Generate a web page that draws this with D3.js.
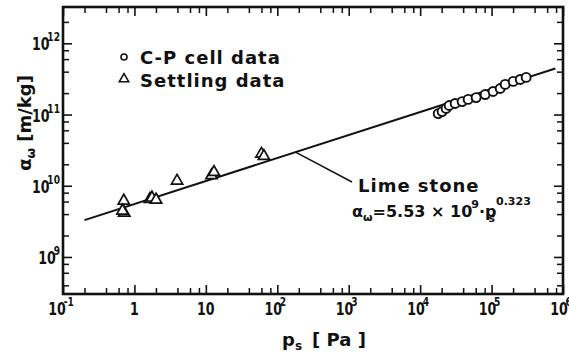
<!DOCTYPE html>
<html>
<head>
<meta charset="utf-8">
<script src="https://cdn.jsdelivr.net/npm/d3@7/dist/d3.min.js"></script>
<style>
  body { margin: 0; background: #fff; }
  svg { display: block; }
  .lbl { font-family: "DejaVu Sans", sans-serif; font-weight: bold; fill: #111; }
  .tick-lbl { font-family: "DejaVu Sans", sans-serif; font-weight: bold; fill: #111; }
</style>
</head>
<body>
<div id="chart"></div>
<script>
// --- data ---
const xMajor = [0.1, 1, 10, 1e2, 1e3, 1e4, 1e5, 1e6]
const xLabels = [["10", "-1"], ["1", ""], ["10", ""], ["10", "2"], ["10", "3"], ["10", "4"], ["10", "5"], ["10", "6"]]
const yMajor = [1e9, 1e10, 1e11, 1e12]
const yLabels = [["10", "9"], ["10", "10"], ["10", "11"], ["10", "12"]]
const minorMult = [2, 4, 6, 8]

// C-P cell data (circles)
const cpPressure = [1.79e4, 2.03e4, 2.31e4, 2.55e4, 3.09e4, 3.87e4, 4.7e4, 6.08e4, 8.13e4, 1.05e5, 1.32e5, 1.55e5, 2.01e5, 2.52e5, 3.05e5]
const cpAlpha = [1.03e11, 1.10e11, 1.22e11, 1.34e11, 1.43e11, 1.52e11, 1.63e11, 1.73e11, 1.91e11, 2.11e11, 2.32e11, 2.65e11, 2.92e11, 3.11e11, 3.32e11]

// settling data (triangles)
const setPressure = [0.71, 0.72, 0.68, 1.65, 1.76, 2.01, 3.95, 12, 13, 60, 65]
const setAlpha = [6.15e9, 4.17e9, 4.45e9, 6.5e9, 6.78e9, 6.35e9, 1.17e10, 1.4e10, 1.55e10, 2.8e10, 2.6e10]

// fitted line  alpha = 5.53e9 * p^0.323
const fitCoef = 5.53e9
const fitExp = 0.323
const fitRange = [0.2, 7.8e5]
const leaderAt = 180

const legendItems = ["C-P cell data", "Settling data"]

var app = {

	init: () => {

		app.width = 569
		app.height = 353

		app.svg = d3.select("#chart").append("svg")
			.attr("width", app.width)
			.attr("height", app.height)

		app.x = d3.scaleLog().domain([0.1, 1e6]).range([63, 563])
		app.y = d3.scaleLog().domain([Math.pow(10, 8.48), Math.pow(10, 12.51)]).range([294, 7])

		app.axes()
		app.marks()
		app.texts()
	},

	minors: (lo, hi) => {
		var out = []
		for (var e = lo; e <= hi; e++) minorMult.forEach(m => out.push(m * Math.pow(10, e)))
		return out
	},

	// "10" with a raised exponent, squeezed like the lettering-guide digits
	powLabel: (px, py, anchor, lab) => {
		var t = app.svg.append("text").attr("class", "tick-lbl")
			.attr("transform", `translate(${px},${py}) scale(0.7,1)`)
			.attr("text-anchor", anchor).attr("font-size", 18)
		t.append("tspan").text(lab[0])
		if (lab[1]) t.append("tspan").attr("font-size", 13).attr("dy", -9).attr("dx", -3).text(lab[1])
	},

	axes: () => {

		var x = app.x, y = app.y, svg = app.svg
		var xMin = app.minors(-1, 5).filter(v => v < 1e6)
		var yMin = app.minors(8, 12).filter(v => v > y.domain()[0] && v < y.domain()[1])

		var sides = [
			{ ax: d3.axisBottom(x), t: "translate(0,294)", maj: xMajor, min: xMin },
			{ ax: d3.axisTop(x), t: "translate(0,7)", maj: xMajor, min: xMin },
			{ ax: d3.axisLeft(y), t: "translate(63,0)", maj: yMajor, min: yMin },
			{ ax: d3.axisRight(y), t: "translate(563,0)", maj: yMajor, min: yMin }
		]

		sides.forEach(d => {
			svg.append("g").attr("transform", d.t)
				.call(d.ax.tickValues(d.min).tickSize(-6).tickFormat(""))
				.call(g => g.select(".domain").remove())
				.selectAll("line").attr("stroke", "#111").attr("stroke-width", 1.5)
			svg.append("g").attr("transform", d.t)
				.call(d.ax.tickValues(d.maj).tickSize(-9).tickFormat(""))
				.call(g => g.select(".domain").remove())
				.selectAll("line").attr("stroke", "#111").attr("stroke-width", 1.6)
		})

		// frame
		svg.append("rect")
			.attr("x", 63).attr("y", 7)
			.attr("width", 500).attr("height", 287)
			.attr("fill", "none").attr("stroke", "#111").attr("stroke-width", 2.6)

		xMajor.forEach((v, i) => app.powLabel(x(v) - (xLabels[i][1] ? 2 : 0), 315, "middle", xLabels[i]))
		yMajor.forEach((v, i) => app.powLabel(60, y(v) + 7, "end", yLabels[i]))
	},

	marks: () => {

		var x = app.x, y = app.y, svg = app.svg

		// fit line
		var fit = fitRange.map(p => [p, fitCoef * Math.pow(p, fitExp)])
		svg.append("path")
			.attr("d", d3.line().x(d => x(d[0])).y(d => y(d[1]))(fit))
			.attr("fill", "none").attr("stroke", "#111").attr("stroke-width", 2)

		// leader to the annotation
		var lp = [x(leaderAt), y(fitCoef * Math.pow(leaderAt, fitExp))]
		svg.append("line")
			.attr("x1", lp[0]).attr("y1", lp[1])
			.attr("x2", 352).attr("y2", 182)
			.attr("stroke", "#111").attr("stroke-width", 1.5)

		var tri = d3.symbol(d3.symbolTriangle).size(55)

		svg.append("g").selectAll("path")
			.data(setPressure.map((p, i) => [p, setAlpha[i]]))
			.join("path")
			.attr("d", tri)
			.attr("transform", d => `translate(${x(d[0])},${y(d[1])})`)
			.attr("fill", "#fff").attr("stroke", "#111").attr("stroke-width", 1.7)

		svg.append("g").selectAll("circle")
			.data(cpPressure.map((p, i) => [p, cpAlpha[i]]))
			.join("circle")
			.attr("cx", d => x(d[0])).attr("cy", d => y(d[1]))
			.attr("r", 4.5)
			.attr("fill", "#fff").attr("stroke", "#111").attr("stroke-width", 1.9)
	},

	texts: () => {

		var svg = app.svg

		// legend
		svg.append("circle").attr("cx", 124).attr("cy", 57).attr("r", 3)
			.attr("fill", "#fff").attr("stroke", "#111").attr("stroke-width", 1.6)
		svg.append("path").attr("d", d3.symbol(d3.symbolTriangle).size(38))
			.attr("transform", "translate(124,79)")
			.attr("fill", "#fff").attr("stroke", "#111").attr("stroke-width", 1.6)

		legendItems.forEach((s, i) => {
			svg.append("text").attr("class", "lbl")
				.attr("x", 140).attr("y", 64 + i * 23)
				.attr("font-size", 18).attr("letter-spacing", 1)
				.text(s)
		})

		// annotation
		svg.append("text").attr("class", "lbl")
			.attr("x", 358).attr("y", 192)
			.attr("font-size", 18).attr("letter-spacing", 1)
			.text("Lime stone")

		var eq = svg.append("text").attr("class", "lbl")
			.attr("x", 352).attr("y", 217).attr("font-size", 16)
		eq.append("tspan").text("α")
		eq.append("tspan").attr("font-size", 11).attr("dy", 4).text("ω")
		eq.append("tspan").attr("dy", -4).text("=5.53 × 10")
		eq.append("tspan").attr("font-size", 11).attr("dy", -9).attr("dx", -1).text("9")
		eq.append("tspan").attr("dy", 9).text("·p")
		eq.append("tspan").attr("font-size", 11).attr("dy", 5).attr("dx", -8).text("s")
		eq.append("tspan").attr("font-size", 11).attr("dy", -17).attr("dx", 1).text("0.323")

		// axis titles
		var yt = svg.append("text").attr("class", "lbl")
			.attr("transform", "translate(31,123) rotate(-90)")
			.attr("text-anchor", "middle").attr("font-size", 18)
		yt.append("tspan").text("α")
		yt.append("tspan").attr("font-size", 12).attr("dy", 4).text("ω")
		yt.append("tspan").attr("dy", -4).text(" [m/kg]")

		var xt = svg.append("text").attr("class", "lbl")
			.attr("x", 282).attr("y", 346).attr("font-size", 18)
		xt.append("tspan").text("p")
		xt.append("tspan").attr("font-size", 12).attr("dy", 4).text("s")
		xt.append("tspan").attr("dy", -4).attr("dx", 10).text("[ Pa ]")
	}
}

app.init()
</script>
</body>
</html>
